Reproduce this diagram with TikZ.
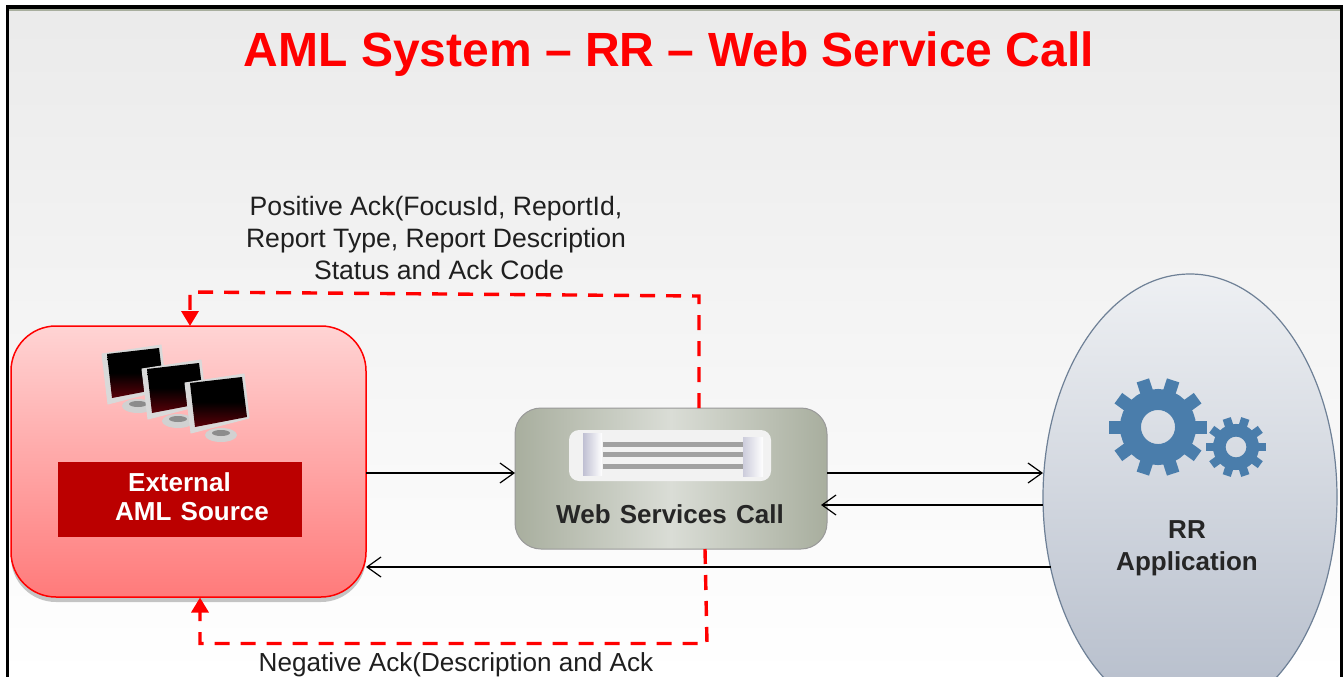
\documentclass[tikz,border=0pt]{standalone}
\usepackage{fontspec}
\setmainfont{Liberation Sans}
\usetikzlibrary{arrows.meta,shadows,shapes.geometric}
\definecolor{gearblue}{HTML}{4A7DAB}
\definecolor{srcred}{HTML}{BB0000}
\definecolor{sage}{HTML}{A8AE9E}
\definecolor{sagelight}{HTML}{DADDD6}
\definecolor{rrtop}{HTML}{EEF0F3}
\definecolor{rrbottom}{HTML}{B4BCCA}
\definecolor{rredge}{HTML}{6E8096}
\definecolor{screenred}{HTML}{5A0008}
\tikzset{
  flow/.style={draw=black,line width=1.2pt,-{Straight Barb[length=14pt,width=20pt]}},
  ackflow/.style={draw=red,line width=3.4pt,dash pattern=on 15pt off 11pt,-{Triangle[length=15pt,width=17pt]}},
  caption/.style={inner sep=0pt,outer sep=0pt,text=black!88,font=\fontsize{26.6}{32}\selectfont,align=center},
  boxlabel/.style={inner sep=0pt,outer sep=0pt,font=\bfseries\fontsize{26}{32}\selectfont,align=center},
  bar/.style={fill=black!37,draw=none},
  sidepiece/.style={left color=#1,right color=white,draw=none},
}
\newcommand{\gearwheel}[5]{
  \foreach \a in {0,36,...,324}
    \draw[gearblue,line width=#5pt] (#1,#2) ++(\a:#3-2) -- ++(\a:#4-#3+2);
  \draw[gearblue,line width=0.55*#3pt] (#1,#2) circle[radius=0.725*#3];
}
\newcommand{\pcscreen}[2]{
  \fill[black!18] (#1+36,#2+52) ellipse[x radius=16,y radius=7];
  \fill[black!45] (#1+36,#2+50) ellipse[x radius=9,y radius=3];
  \fill[black!15,draw=white!85!black,line width=1pt,line join=round] (#1,#2) -- (#1+59,#2-9) -- (#1+64,#2+35) -- (#1+6,#2+50) -- cycle;
  \shade[top color=black,bottom color=screenred,middle color=black] (#1+5,#2) -- (#1+57,#2-6) -- (#1+62,#2+34) -- (#1+10,#2+44) -- cycle;
}
\begin{document}
\begin{tikzpicture}[x=1pt,y=-1pt]
\useasboundingbox (0,0) rectangle (1344,677);
\clip (0,0) rectangle (1344,677);
\shade[top color=black!8,bottom color=white,draw=none] (9,9) rectangle (1340,677);
\fill[sage] (9,9) rectangle (1340,11.5);
\draw[line width=3.4pt,line join=miter] (7.5,677) -- (7.5,7) -- (1341.5,7) -- (1341.5,677);
\draw[line width=1pt] (125,-3) arc[start angle=180,end angle=360,radius=6];
\draw[line width=1pt] (320,-3) arc[start angle=180,end angle=360,radius=6];
\node[inner sep=0pt,outer sep=0pt,text=red,font=\bfseries\fontsize{48}{50}\selectfont] (title) at (669,54) {AML System -- RR -- Web Service Call};

\node[draw=red,line width=1.5pt,rounded corners=45pt,top color=red!17,bottom color=red!52,minimum width=355pt,minimum height=271pt,inner sep=0pt,outer sep=0pt,drop shadow={shadow xshift=0pt,shadow yshift=-5pt,opacity=.45}] (src) at (188.5,461.5) {};
\node[fill=srcred,minimum width=244pt,minimum height=75pt,inner sep=0pt,outer sep=0pt] (srcname) at (180,499.5) {};
\node[boxlabel,text=white,anchor=center] (srcA) at (179.5,482) {External};
\node[boxlabel,text=white,anchor=center] (srcB) at (192,512) {AML~\hspace{2pt}Source};
\pcscreen{102}{354}
\pcscreen{142}{369}
\pcscreen{185}{383}

\node[draw=black!40,line width=1pt,rounded corners=26pt,left color=sage,right color=sage,middle color=sagelight,minimum width=312pt,minimum height=141pt,inner sep=0pt,outer sep=0pt] (web) at (671,478.5) {};
\node[fill=black!5,rounded corners=10pt,minimum width=202pt,minimum height=51pt,inner sep=0pt,outer sep=0pt] (webicon) at (670,455.5) {};
\fill[bar] (603,441.5) rectangle (744,447);
\fill[bar] (603,451.5) rectangle (744,457);
\fill[bar] (603,464) rectangle (744,469);
\shade[sidepiece=blue!30!black!25] (583,433.5) rectangle (602,475);
\shade[sidepiece=blue!30!black!20] (743,437) rectangle (763,476);
\node[boxlabel,text=black!85] (webname) at (670,514) {Web~\hspace{2pt}Services~\hspace{2pt}Call};

\node[ellipse,draw=rredge,line width=1.2pt,top color=rrtop,bottom color=rrbottom,minimum width=294pt,minimum height=446pt,inner sep=0pt,outer sep=0pt] (rr) at (1190,497) {};
\gearwheel{1158}{427}{38}{49}{13}
\gearwheel{1236}{447}{23}{30}{8.5}
\node[boxlabel,text=black!85] (rrname) at (1187,548.5) {RR\\Application};

\coordinate (upper) at (0,473);
\coordinate (lower) at (0,505);
\coordinate (back) at (0,567);
\coordinate (poshi) at (0,296);
\coordinate (posleft) at (0,292);
\coordinate (neglo) at (0,643.5);
\coordinate (posweb) at (699,408);
\coordinate (possrc) at (190,326);
\coordinate (negweb) at (705,549);
\coordinate (negsrc) at (200,597.5);

\draw[flow] (src.east |- upper) -- (web.west |- upper);
\draw[flow] (web.east |- upper) -- (rr.west |- upper);
\draw[flow] (rr.west |- lower) -- ([xshift=-6pt]web.east |- lower);
\draw[flow] ([xshift=7.5pt]rr.west |- back) -- (src.east |- back);
\draw[ackflow] (posweb) -- (posweb |- poshi) -- (possrc |- posleft) -- (possrc);
\draw[ackflow] (negweb) -- ([xshift=2pt]negweb |- neglo) -- (negsrc |- neglo) -- (negsrc);

\node[caption] (posack) at (436,238) {Positive Ack(FocusId, ReportId,\\Report Type, Report Description\\\hspace*{6pt}Status and Ack Code};
\node[caption,font=\fontsize{26.1}{32}\selectfont] (negack) at (456,664.5) {Negative Ack(Description and Ack};
\end{tikzpicture}
\end{document}
